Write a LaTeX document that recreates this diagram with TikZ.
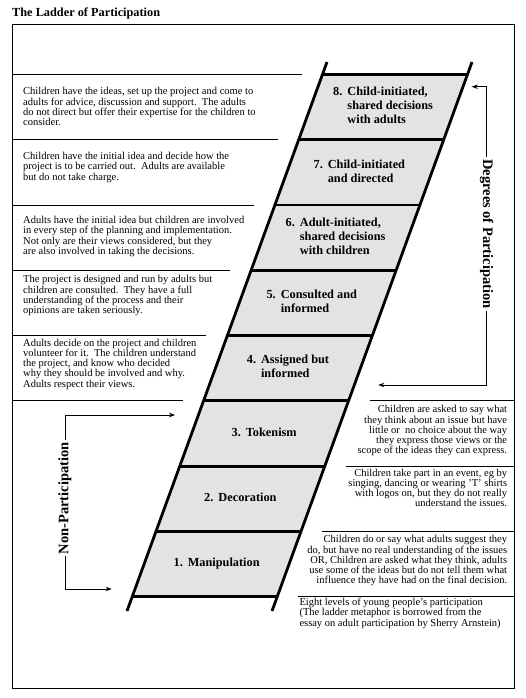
\documentclass[tikz,border=0pt]{standalone}
\usepackage{fontspec}
\setmainfont{Liberation Serif}
\usetikzlibrary{arrows.meta,calc}
\begin{document}
\begin{tikzpicture}[x=1pt,y=-1pt,
  frame/.style={draw=black,line width=0.8pt},
  sep/.style={draw=black,line width=0.8pt},
  rail/.style={line width=2.8pt},
  rung/.style={line width=2.8pt},
  rungfill/.style={fill=black!11},
  body/.style={font=\fontsize{10.5}{10.3}\selectfont, inner sep=0pt},
  lefttext/.style={body,anchor=north west,align=left},
  righttext/.style={body,anchor=north east,align=right},
  steplabel/.style={font=\bfseries\fontsize{12.3}{14}\selectfont, inner sep=0pt},
  sidelabel/.style={font=\bfseries\fontsize{14.5}{16}\selectfont, inner sep=2pt},
  arr/.style={line width=0.7pt,-{Stealth[length=6pt,width=4.5pt]}}
]
\useasboundingbox (0,0) rectangle (525,698);
\fill[white] (0,0) rectangle (525,698);
\node[anchor=base west, inner sep=0pt, font=\bfseries\fontsize{12.3}{14}\selectfont] (title) at (12,16.5) {The Ladder of Participation};
\draw[frame] (12,24) rectangle (514,688);
\coordinate (fl) at (12,0);
\coordinate (fr) at (514,0);
% ladder geometry
\coordinate (LB) at (127,611);
\coordinate (LT) at (327,62);
\coordinate (RB) at (272,611);
\coordinate (RT) at (472,62);
\foreach \k in {0,...,8} {
  \pgfmathsetmacro\yy{74.3+65.3*\k}
  \pgfmathsetmacro\xl{327-(\yy-62)*0.364299}
  \coordinate (l\k) at (\xl,\yy);
  \coordinate (r\k) at (\xl+145,\yy);
}
\fill[rungfill] (l0) -- (r0) -- (r8) -- (l8) -- cycle;
\foreach \k in {0,...,8} {\draw[rung] (l\k) -- (r\k);}
\draw[rail] (LB) -- (LT);
\draw[rail] (RB) -- (RT);
% left separators
\foreach \k in {0,...,5} {\draw[sep] (fl |- l\k) -- ($(l\k)+(-21,0)$);}
% right separators
\foreach \k in {5,...,8} {\draw[sep] ($(r\k)+(21,0)$) -- (fr |- r\k);}
% step labels
\node[steplabel] (s8) at ($(l0)!0.5!(r1)$) {\begin{tabular}{@{}l@{\hspace{5pt}}l@{}}8. & Child-initiated,\\ & shared decisions\\ & with adults\end{tabular}};
\node[steplabel] (s7) at ($(l1)!0.5!(r2)$) {\begin{tabular}{@{}l@{\hspace{5pt}}l@{}}7. & Child-initiated\\ & and directed\end{tabular}};
\node[steplabel] (s6) at ($(l2)!0.5!(r3)$) {\begin{tabular}{@{}l@{\hspace{5pt}}l@{}}6. & Adult-initiated,\\ & shared decisions\\ & with children\end{tabular}};
\node[steplabel] (s5) at ($(l3)!0.5!(r4)$) {\begin{tabular}{@{}l@{\hspace{5pt}}l@{}}5. & Consulted and\\ & informed\end{tabular}};
\node[steplabel] (s4) at ($(l4)!0.5!(r5)$) {\begin{tabular}{@{}l@{\hspace{5pt}}l@{}}4. & Assigned but\\ & informed\end{tabular}};
\node[steplabel] (s3) at ($(l5)!0.5!(r6)$) {\begin{tabular}{@{}l@{\hspace{5pt}}l@{}}3. & Tokenism\end{tabular}};
\node[steplabel] (s2) at ($(l6)!0.5!(r7)$) {\begin{tabular}{@{}l@{\hspace{5pt}}l@{}}2. & Decoration\end{tabular}};
\node[steplabel] (s1) at ($(l7)!0.5!(r8)$) {\begin{tabular}{@{}l@{\hspace{5pt}}l@{}}1. & Manipulation\end{tabular}};
% left texts
\node[lefttext] (t8) at (23,87.3) {Children have the ideas, set up the project and come to\\adults for advice, discussion and support.\ \ The adults\\do not direct but offer their expertise for the children to\\consider.};
\node[lefttext] (t7) at (23,152) {Children have the initial idea and decide how the\\project is to be carried out.\ \ Adults are available\\but do not take charge.};
\node[lefttext] (t6) at (23,216) {Adults have the initial idea but children are involved\\in every step of the planning and implementation.\\Not only are their views considered, but they\\are also involved in taking the decisions.};
\node[lefttext] (t5) at (23,275.3) {The project is designed and run by adults but\\children are consulted.\ \ They have a full\\understanding of the process and their\\opinions are taken seriously.};
\node[lefttext] (t4) at (23,338.6) {Adults decide on the project and children\\volunteer for it.\ \ The children understand\\the project, and know who decided\\why they should be involved and why.\\Adults respect their views.};
% right texts
\node[righttext] (t3) at (507.3,405.3) {Children are asked to say what\\they think about an issue but have\\little or\ \ no choice about the way\\they express those views or the\\scope of the ideas they can express.};
\node[righttext] (t2) at (507.3,468.6) {Children take part in an event, eg by\\singing, dancing or wearing 'T' shirts\\with logos on, but they do not really\\understand the issues.};
\node[righttext] (t1) at (507.3,535.3) {Children do or say what adults suggest they\\do, but have no real understanding of the issues\\OR, Children are asked what they think, adults\\use some of the ideas but do not tell them what\\influence they have had on the final decision.};
\node[lefttext] (note) at (299.3,598) {Eight levels of young people's participation\\(The ladder metaphor is borrowed from the\\essay on adult participation by Sherry Arnstein)};
% side labels
\node[sidelabel, rotate=-90] (deg) at (486.7,234) {Degrees of Participation};
\coordinate (degtop) at (486.7,86.7);
\coordinate (degtip) at (471.7,86.7);
\coordinate (degbot) at (486.7,385);
\coordinate (degtip2) at (378.3,385);
\draw[arr] (deg.west) -- (degtop) -- (degtip);
\draw[arr] (deg.east) -- (degbot) -- (degtip2);
\node[sidelabel, rotate=90] (non) at (65,498.3) {Non-Participation};
\coordinate (nontop) at (65,415);
\coordinate (nontip) at (175,415);
\coordinate (nonbot) at (65,589);
\coordinate (nontip2) at (111.7,589);
\draw[arr] (non.east) -- (nontop) -- (nontip);
\draw[arr] (non.west) -- (nonbot) -- (nontip2);
\end{tikzpicture}
\end{document}
